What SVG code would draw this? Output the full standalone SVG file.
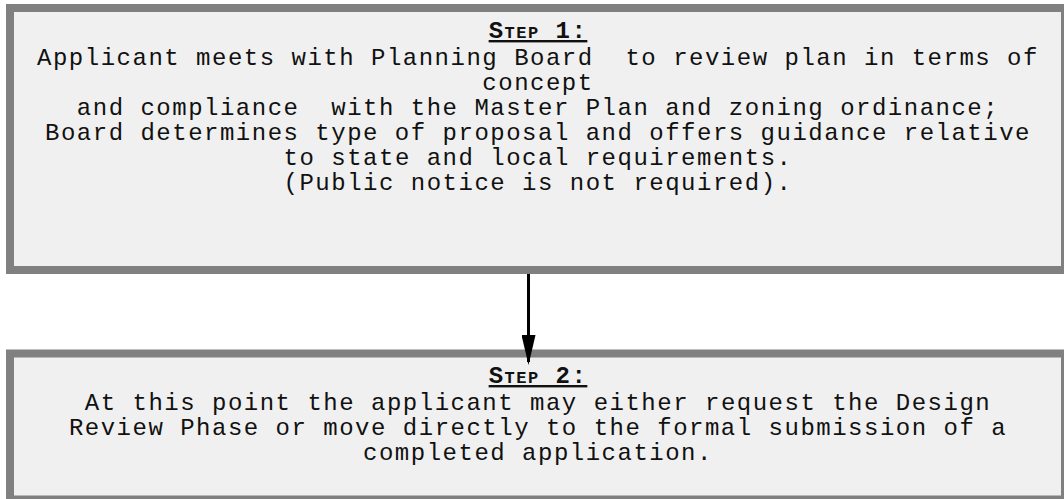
<svg xmlns="http://www.w3.org/2000/svg" width="1064" height="499" viewBox="0 0 1064 499">
  <style>
    .box { fill: #f0f0f0; stroke: #808080; stroke-width: 8; }
    .txt { font-family: "Liberation Mono", "Courier New", monospace; font-size: 24px; letter-spacing: 1.5px; fill: #111; text-anchor: middle; }
    .hd { font-weight: bold; font-variant: small-caps; text-decoration: underline; }
    .conn { stroke: #000; stroke-width: 3; fill: none; }
  </style>
  <defs>
    <marker id="arrow" viewBox="0 0 30 14" markerWidth="30" markerHeight="14" refX="27" refY="7" orient="auto" markerUnits="userSpaceOnUse">
      <path d="M0,0 L30,7 L0,14 z" fill="#000"/>
    </marker>
  </defs>
  <g id="step1">
    <rect class="box" x="10" y="8" width="1055" height="262"/>
    <text class="txt hd" x="538" y="38">Step 1:</text>
    <text class="txt" xml:space="preserve"><tspan x="538" y="65">Applicant meets with Planning Board  to review plan in terms of</tspan><tspan x="538" y="90">concept</tspan><tspan x="538" y="115">and compliance  with the Master Plan and zoning ordinance;</tspan><tspan x="538" y="140">Board determines type of proposal and offers guidance relative</tspan><tspan x="538" y="165">to state and local requirements.</tspan><tspan x="538" y="190">(Public notice is not required).</tspan></text>
  </g>
  <g id="step2">
    <rect class="box" x="10" y="353.5" width="1055" height="146"/>
    <text class="txt hd" x="538" y="383">Step 2:</text>
    <text class="txt"><tspan x="538" y="410">At this point the applicant may either request the Design</tspan><tspan x="538" y="435">Review Phase or move directly to the formal submission of a</tspan><tspan x="538" y="460">completed application.</tspan></text>
  </g>
  <g id="connectors">
    <line class="conn" x1="528.5" y1="274" x2="528.5" y2="362" marker-end="url(#arrow)"/>
  </g>
</svg>
